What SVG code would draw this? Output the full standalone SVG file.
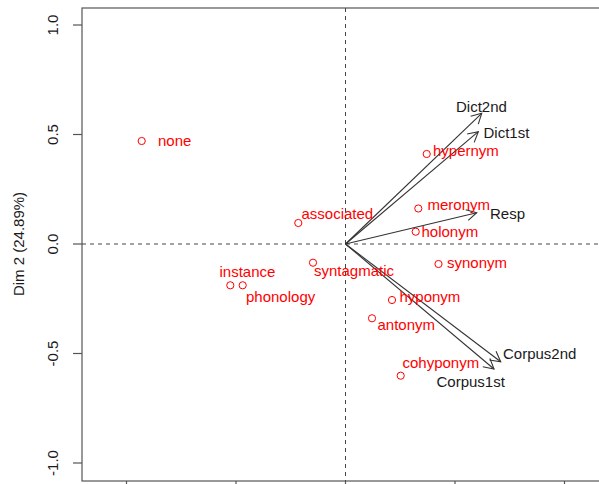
<svg xmlns="http://www.w3.org/2000/svg" width="599" height="484" viewBox="0 0 599 484">
<style>
text{font-family:"Liberation Sans",Arial,sans-serif;font-size:15px}
.pt circle{fill:none;stroke:#ff0000;stroke-width:1}
.pt text{fill:#ff0000}
.var text{fill:#1a1a1a}
.frame{fill:none;stroke:#555;stroke-width:1.2}
.tick{stroke:#555;stroke-width:1.2}
.dash{stroke:#444;stroke-width:1;stroke-dasharray:4 4}
.arrow{stroke:#333;stroke-width:1.1;fill:none;marker-end:url(#ah)}
.axlab{fill:#1a1a1a}
</style>
<defs>
<marker id="ah" markerUnits="userSpaceOnUse" markerWidth="14" markerHeight="14" viewBox="-12 -7 14 14" refX="0" refY="0" orient="auto">
<path d="M-10,-5.5 L0,0 L-10,5.5" fill="none" stroke="#333" stroke-width="1.1"/>
</marker>
</defs>
<rect width="599" height="484" fill="#fff"/>
<g id="axes">
<rect class="frame" x="82" y="8" width="530" height="473"/>
<line class="tick" x1="73" y1="25" x2="82" y2="25"/>
<line class="tick" x1="73" y1="134.5" x2="82" y2="134.5"/>
<line class="tick" x1="73" y1="244" x2="82" y2="244"/>
<line class="tick" x1="73" y1="353.5" x2="82" y2="353.5"/>
<line class="tick" x1="73" y1="463" x2="82" y2="463"/>
<line class="tick" x1="126.5" y1="481" x2="126.5" y2="490"/>
<line class="tick" x1="236" y1="481" x2="236" y2="490"/>
<line class="tick" x1="345.5" y1="481" x2="345.5" y2="490"/>
<line class="tick" x1="455" y1="481" x2="455" y2="490"/>
<line class="tick" x1="564.5" y1="481" x2="564.5" y2="490"/>
<text class="axlab" transform="translate(58,25) rotate(-90)" text-anchor="middle">1.0</text>
<text class="axlab" transform="translate(58,134.5) rotate(-90)" text-anchor="middle">0.5</text>
<text class="axlab" transform="translate(58,244) rotate(-90)" text-anchor="middle">0.0</text>
<text class="axlab" transform="translate(58,353.5) rotate(-90)" text-anchor="middle">-0.5</text>
<text class="axlab" transform="translate(58,463) rotate(-90)" text-anchor="middle">-1.0</text>
<text class="axlab" transform="translate(24,244) rotate(-90)" text-anchor="middle">Dim 2 (24.89%)</text>
<line class="dash" x1="82" y1="244" x2="599" y2="244"/>
<line class="dash" x1="345.5" y1="8" x2="345.5" y2="481"/>
</g>
<g id="connectors">
<line class="arrow" x1="345.5" y1="244" x2="481.7" y2="113.3"/>
<line class="arrow" x1="345.5" y1="244" x2="478.3" y2="131.7"/>
<line class="arrow" x1="345.5" y1="244" x2="476.7" y2="212.7"/>
<line class="arrow" x1="345.5" y1="244" x2="500.7" y2="361.7"/>
<line class="arrow" x1="345.5" y1="244" x2="494" y2="369"/>
</g>
<g id="Dict2nd" class="var"><text x="456" y="111.5">Dict2nd</text></g>
<g id="Dict1st" class="var"><text x="483.5" y="138">Dict1st</text></g>
<g id="Resp" class="var"><text x="490" y="219">Resp</text></g>
<g id="Corpus2nd" class="var"><text x="503" y="359">Corpus2nd</text></g>
<g id="Corpus1st" class="var"><text x="436.5" y="386.5">Corpus1st</text></g>
<g id="none" class="pt"><circle cx="141.7" cy="141" r="3.6"/><text x="158" y="145.5">none</text></g>
<g id="hypernym" class="pt"><circle cx="426.7" cy="154" r="3.6"/><text x="433" y="155.5">hypernym</text></g>
<g id="meronym" class="pt"><circle cx="418.3" cy="208.5" r="3.6"/><text x="427.5" y="209.5">meronym</text></g>
<g id="holonym" class="pt"><circle cx="415.7" cy="231.7" r="3.6"/><text x="421.5" y="237.2">holonym</text></g>
<g id="associated" class="pt"><circle cx="298.3" cy="223" r="3.6"/><text x="301.5" y="219">associated</text></g>
<g id="synonym" class="pt"><circle cx="438.5" cy="264" r="3.6"/><text x="447" y="268">synonym</text></g>
<g id="syntagmatic" class="pt"><circle cx="313" cy="262.7" r="3.6"/><text x="314" y="276">syntagmatic</text></g>
<g id="instance" class="pt"><circle cx="230.3" cy="285.3" r="3.6"/><text x="219.5" y="277">instance</text></g>
<g id="phonology" class="pt"><circle cx="242.7" cy="285.3" r="3.6"/><text x="246" y="301.5">phonology</text></g>
<g id="hyponym" class="pt"><circle cx="392" cy="300" r="3.6"/><text x="399.5" y="302.3">hyponym</text></g>
<g id="antonym" class="pt"><circle cx="372" cy="318.3" r="3.6"/><text x="377.5" y="329.5">antonym</text></g>
<g id="cohyponym" class="pt"><circle cx="400.7" cy="375.7" r="3.6"/><text x="402.5" y="368">cohyponym</text></g>
</svg>
